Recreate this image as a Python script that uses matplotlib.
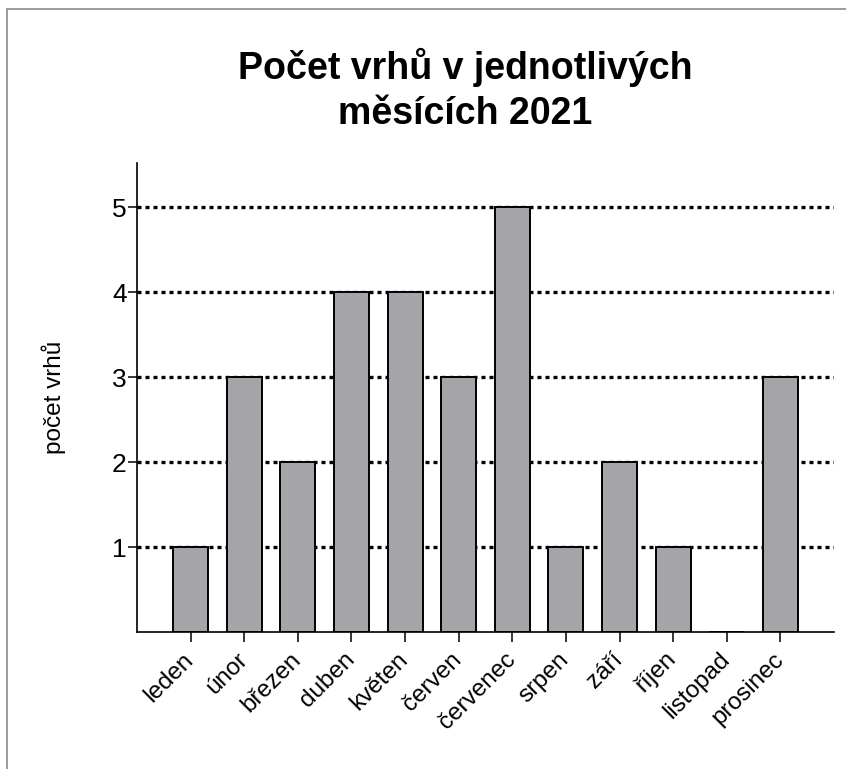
import matplotlib
matplotlib.use("Agg")
import matplotlib.pyplot as plt
from matplotlib.patches import Rectangle

months = ["leden", "únor", "březen", "duben", "květen", "červen",
          "červenec", "srpen", "září", "říjen", "listopad", "prosinec"]
litters = [1, 3, 2, 4, 4, 3, 5, 1, 2, 1, 0, 3]
y_ticks = [1, 2, 3, 4, 5]

plt.rcParams["font.family"] = ["Liberation Sans", "DejaVu Sans"]

fig = plt.figure(figsize=(8.46, 7.69), dpi=100)
ax = fig.add_axes([137 / 846, 137 / 769, 697 / 846, 469 / 769])

x = list(range(len(months)))
ax.bar(x, litters, width=0.65, color="#a5a4a8", edgecolor="black",
       linewidth=1.4, zorder=3)

ax.set_xlim(-1, 12)
ax.set_ylim(0, 5.52)
ax.set_yticks(y_ticks)
ax.set_xticks(x)
ax.set_xticklabels(months, rotation=45, ha="right", va="center",
                   rotation_mode="anchor", fontsize=17.5)
ax.tick_params(axis="x", length=7.5, width=1.1, pad=10)
ax.tick_params(axis="y", length=6.5, width=1.1, labelsize=19, pad=1)

for v in y_ticks:
    ax.axhline(v, color="black", linewidth=2.4, linestyle=(0, (1.2, 1.2)),
               zorder=1)

for s in ["top", "right"]:
    ax.spines[s].set_visible(False)
for s in ["left", "bottom"]:
    ax.spines[s].set_linewidth(1.2)

ax.set_ylabel("počet vrhů", fontsize=17.5, labelpad=33)

fig.text(465 / 846, 1 - 90 / 769, "Počet vrhů v jednotlivých\nměsících 2021",
         ha="center", va="center", fontsize=27, fontweight="bold",
         linespacing=1.3)

fig.add_artist(Rectangle((7 / 846, -0.1), 1.2, 1.1 - 9 / 769,
                         transform=fig.transFigure, fill=False,
                         edgecolor="#8a8a8a", linewidth=1.2))

fig.savefig("out.png", dpi=100)
